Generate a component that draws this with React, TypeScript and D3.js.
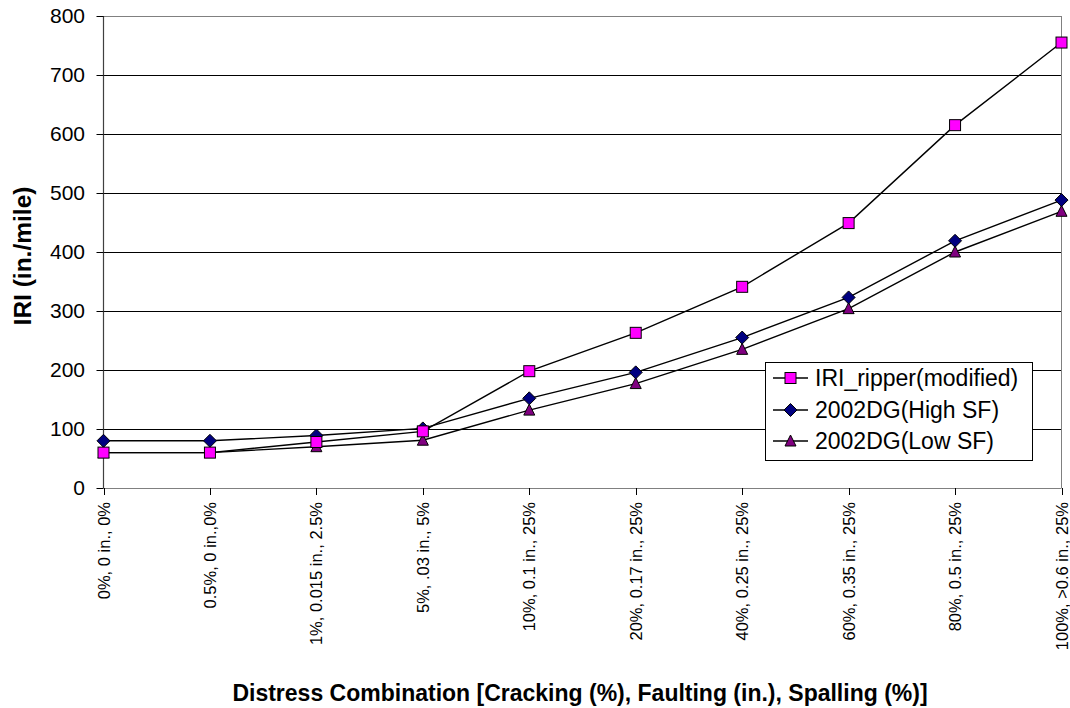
import React from "react";
import * as d3 from "d3";

const categories = [
  "0%, 0 in., 0%",
  "0.5%, 0 in.,0%",
  "1%, 0.015 in., 2.5%",
  "5%, .03 in., 5%",
  "10%, 0.1 in., 25%",
  "20%, 0.17 in., 25%",
  "40%, 0.25 in., 25%",
  "60%, 0.35 in., 25%",
  "80%, 0.5 in., 25%",
  "100%, >0.6 in., 25%",
];
const iriRipper = [60, 60, 78, 96, 198, 263, 341, 449, 615, 755];
const highSF = [80, 80, 89, 101, 152, 196, 255, 323, 419, 488];
const lowSF = [60, 60, 70, 81, 132, 177, 235, 304, 400, 469];
const yTicks = [0, 100, 200, 300, 400, 500, 600, 700, 800];

const seriesNames = ["IRI_ripper(modified)", "2002DG(High SF)", "2002DG(Low SF)"];
const seriesColors = ["#FF00FF", "#000080", "#800080"];
const seriesShapes = ["square", "diamond", "triangle"];
const seriesData = [iriRipper, highSF, lowSF];

const FONT = "Arial, 'Liberation Sans', sans-serif";

function Marker({ shape, x, y, fill }: { shape: string; x: number; y: number; fill: string }) {
  if (shape === "square") {
    return <rect x={x - 5.5} y={y - 5.5} width={11} height={11} fill={fill} stroke="#000" strokeWidth={1} />;
  }
  if (shape === "diamond") {
    const r = 6.5;
    return (
      <path d={`M${x},${y - r}L${x + r},${y}L${x},${y + r}L${x - r},${y}Z`} fill={fill} stroke="#000" strokeWidth={1} />
    );
  }
  const h = 6;
  return (
    <path d={`M${x},${y - h}L${x + 5.5},${y + 5}L${x - 5.5},${y + 5}Z`} fill={fill} stroke="#000" strokeWidth={1} />
  );
}

export default function App() {
  const W = 1070;
  const H = 708;
  const left = 103.5;
  const right = 1061.5;
  const top = 16;
  const bottom = 488;

  const x = d3.scalePoint<string>().domain(categories).range([left, right]).padding(0);
  const y = d3.scaleLinear().domain([0, 800]).range([bottom, top]);
  const line = d3
    .line<number>()
    .x((_, i) => x(categories[i]) as number)
    .y((d) => y(d));

  const legX = 765.5;
  const legY = 362.5;
  const legW = 267;
  const legH = 98;
  const rowYs = [378, 410, 441];

  return (
    <svg width={W} height={H} style={{ position: "absolute", left: 0, top: 0, background: "#fff" }} fontFamily={FONT}>
      <rect x={0} y={0} width={W} height={H} fill="#fff" />
      {/* gridlines */}
      {yTicks.slice(1, -1).map((t) => (
        <line key={t} x1={left} x2={right} y1={Math.round(y(t)) + 0.5} y2={Math.round(y(t)) + 0.5} stroke="#000" strokeWidth={1} />
      ))}
      {/* plot border */}
      <line x1={left} x2={right} y1={top + 0.5} y2={top + 0.5} stroke="#808080" strokeWidth={1} />
      <line x1={right} x2={right} y1={top} y2={bottom} stroke="#808080" strokeWidth={1} />
      <line x1={left} x2={right} y1={bottom + 0.5} y2={bottom + 0.5} stroke="#808080" strokeWidth={1} />
      <line x1={left} x2={left} y1={top} y2={bottom} stroke="#404040" strokeWidth={1.2} />
      {/* y ticks */}
      {yTicks.map((t) => (
        <g key={t}>
          <line x1={left - 7} x2={left} y1={Math.round(y(t)) + 0.5} y2={Math.round(y(t)) + 0.5} stroke="#000" />
          <text x={85} y={y(t)} dy="0.35em" textAnchor="end" fontSize={21} fill="#000">
            {t}
          </text>
        </g>
      ))}
      {/* x ticks */}
      {categories.map((c) => {
        const cx = Math.round(x(c) as number) + 0.5;
        return (
          <g key={c}>
            <line x1={cx} x2={cx} y1={bottom} y2={bottom + 7} stroke="#000" />
            <text
              transform={`translate(${cx + 5.5},${502}) rotate(-90)`}
              textAnchor="end"
              fontSize={16.5}
              fill="#000"
            >
              {c}
            </text>
          </g>
        );
      })}
      {/* lines */}
      {seriesData.map((d, si) => (
        <path key={si} d={line(d) || ""} fill="none" stroke="#000" strokeWidth={1.4} />
      ))}
      {/* markers */}
      {[2, 1, 0].map((si) =>
        seriesData[si].map((v, i) => (
          <Marker key={`${si}-${i}`} shape={seriesShapes[si]} x={x(categories[i]) as number} y={y(v)} fill={seriesColors[si]} />
        ))
      )}
      {/* legend */}
      <rect x={legX} y={legY} width={legW} height={legH} fill="#fff" stroke="#000" strokeWidth={1} />
      {seriesNames.map((n, i) => (
        <g key={n}>
          <line x1={773} x2={808} y1={rowYs[i]} y2={rowYs[i]} stroke="#000" strokeWidth={1.4} />
          <Marker shape={seriesShapes[i]} x={790.5} y={rowYs[i]} fill={seriesColors[i]} />
          <text x={815} y={rowYs[i]} dy="0.36em" fontSize={23} fill="#000">
            {n}
          </text>
        </g>
      ))}
      {/* axis titles */}
      <text
        transform={`translate(${31},${256}) rotate(-90)`}
        textAnchor="middle"
        fontSize={24.5}
        fontWeight="bold"
        fill="#000"
      >
        IRI (in./mile)
      </text>
      <text x={580} y={701} textAnchor="middle" fontSize={23} fontWeight="bold" fill="#000">
        Distress Combination [Cracking (%), Faulting (in.), Spalling (%)]
      </text>
    </svg>
  );
}
